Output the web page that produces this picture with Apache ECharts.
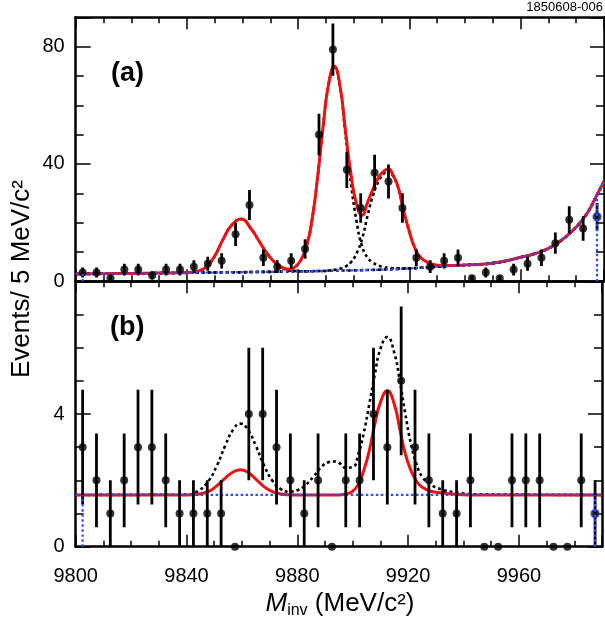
<!DOCTYPE html>
<html>
<head>
<meta charset="utf-8">
<script src="https://cdn.jsdelivr.net/npm/echarts@6.0.0/dist/echarts.min.js"></script>
<style>
html,body{margin:0;padding:0;background:#fff;}
#chart{width:605px;height:619px;}
</style>
</head>
<body>
<div id="chart"></div>
<script>
// ---------- DATA ----------
const binCenters = [9802.5, 9807.5, 9812.5, 9817.5, 9822.5, 9827.5, 9832.5, 9837.5, 9842.5, 9847.5,
  9852.5, 9857.5, 9862.5, 9867.5, 9872.5, 9877.5, 9882.5, 9887.5, 9892.5, 9897.5,
  9902.5, 9907.5, 9912.5, 9917.5, 9922.5, 9927.5, 9932.5, 9937.5, 9942.5, 9947.5,
  9952.5, 9957.5, 9962.5, 9967.5, 9972.5, 9977.5, 9982.5, 9987.5];

// panel (a)
const countsA = [3, 3, 1, 4, 4, 2, 4, 4, 5, 6,
  7, 16, 26, 8, 5, 7, 11, 50, 79, 38,
  25, 37, 34, 25, 8, 5, 7, 8, 1, 3,
  1, 4, 6, 8, 13, 21, 18, 22];
const errA = [1.7, 1.7, 1.0, 2.0, 2.0, 1.4, 2.0, 2.0, 2.2, 2.4,
  2.6, 4.0, 5.1, 2.8, 2.2, 2.6, 3.3, 7.1, 8.9, 6.2,
  5.0, 6.1, 5.8, 5.0, 2.8, 2.2, 2.6, 2.8, 1.0, 1.7,
  1.0, 2.0, 2.4, 2.8, 3.6, 4.6, 4.2, 4.7];

// panel (b)
const countsB = [3, 2, 1, 2, 3, 3, 2, 1, 1, 1,
  1, 0, 4, 4, 3, 2, 1, 2, 0, 2,
  2, 4, 3, 5, 3, 2, 1, 1, 2, 0,
  0, 2, 2, 2, 0, 0, 2, 1];
const errB = [1.73, 1.41, 1.0, 1.41, 1.73, 1.73, 1.41, 1.0, 1.0, 1.0,
  1.0, 0, 2.0, 2.0, 1.73, 1.41, 1.0, 1.41, 0, 1.41,
  1.41, 2.0, 1.73, 2.24, 1.73, 1.41, 1.0, 1.0, 1.41, 0,
  0, 1.41, 1.41, 1.41, 0, 0, 1.41, 1.0];

// fit curves, panel (a)
const curveXA = [9800, 9810, 9820, 9830, 9840, 9844, 9847, 9850, 9853, 9856,
  9859.5, 9863, 9866, 9869, 9872, 9875, 9877, 9879, 9881, 9883,
  9885, 9887, 9889, 9891, 9893, 9895, 9897, 9899, 9901, 9903,
  9905, 9907, 9909, 9911, 9912.5, 9914, 9916, 9918, 9920, 9922,
  9924, 9927, 9930, 9935, 9940, 9945, 9950, 9955, 9960, 9965,
  9970, 9975, 9980, 9984, 9987.5, 9990];
const bgA = [2.5, 2.6, 2.7, 2.8, 2.9, 2.95, 3.0, 3.0, 3.05, 3.1,
  3.1, 3.15, 3.2, 3.2, 3.25, 3.3, 3.3, 3.35, 3.4, 3.4,
  3.45, 3.5, 3.5, 3.55, 3.6, 3.65, 3.7, 3.7, 3.75, 3.8,
  3.85, 3.9, 3.95, 4.0, 4.05, 4.1, 4.2, 4.3, 4.4, 4.5,
  4.6, 4.8, 5.0, 5.3, 5.55, 5.75, 6.2, 7.0, 8.2, 9.4,
  11.2, 14.2, 18.5, 23.3, 29.5, 34.0];
const totalA = [2.5, 2.6, 2.7, 2.8, 3.0, 3.4, 5.0, 8.6, 14.3, 19.0,
  21.2, 18.0, 13.6, 9.3, 6.1, 4.4, 4.1, 5.0, 7.3, 11.8,
  21.0, 35.5, 53.0, 67.5, 73.3, 67.0, 51.5, 36.5, 26.3, 22.5,
  27.0, 31.6, 35.5, 37.7, 38.3, 36.5, 32.0, 23.8, 16.9, 11.3,
  8.2, 6.3, 5.5, 5.35, 5.55, 5.75, 6.2, 7.0, 8.2, 9.4,
  11.2, 14.2, 18.5, 23.3, 29.5, 34.0];
const peak1A = [2.5, 2.6, 2.7, 2.8, 3.0, 3.4, 5.0, 8.6, 14.3, 19.0,
  21.2, 18.0, 13.6, 9.3, 6.1, 4.2, 3.7, 3.5, 3.45, 3.4,
  3.45, 3.5, 3.5, 3.55, 3.6, 3.65, 3.7, 3.7, 3.75, 3.8,
  3.85, 3.9, 3.95, 4.0, 4.05, 4.1, 4.2, 4.3, 4.4, 4.5,
  4.6, 4.8, 5.0, 5.3, 5.55, 5.75, 6.2, 7.0, 8.2, 9.4,
  11.2, 14.2, 18.5, 23.3, 29.5, 34.0];
const peak2A = [2.5, 2.6, 2.7, 2.8, 2.9, 2.95, 3.0, 3.0, 3.05, 3.1,
  3.1, 3.15, 3.2, 3.2, 3.25, 3.35, 3.7, 4.85, 7.25, 11.75,
  20.95, 35.45, 52.95, 67.4, 73.0, 66.5, 50.3, 33.5, 20.5, 11.9,
  8.0, 6.3, 5.3, 4.8, 4.6, 4.45, 4.4, 4.4, 4.45, 4.5,
  4.6, 4.8, 5.0, 5.3, 5.55, 5.75, 6.2, 7.0, 8.2, 9.4,
  11.2, 14.2, 18.5, 23.3, 29.5, 34.0];
const peak3A = [2.5, 2.6, 2.7, 2.8, 2.9, 2.95, 3.0, 3.0, 3.05, 3.1,
  3.1, 3.15, 3.2, 3.2, 3.25, 3.3, 3.3, 3.35, 3.4, 3.4,
  3.45, 3.5, 3.5, 3.7, 3.9, 4.3, 5.0, 6.5, 9.5, 14.5,
  22.5, 29.5, 34.2, 36.9, 37.8, 36.1, 31.8, 23.8, 16.9, 11.3,
  8.2, 6.3, 5.5, 5.35, 5.55, 5.75, 6.2, 7.0, 8.2, 9.4,
  11.2, 14.2, 18.5, 23.3, 29.5, 34.0];

// fit curves, panel (b)
const curveXB = [9800, 9840, 9844, 9848, 9851, 9854, 9857, 9859.5, 9862, 9865,
  9868, 9871, 9874, 9877, 9880, 9883, 9886, 9889, 9891, 9893,
  9895, 9897.5, 9900, 9902, 9904, 9906, 9908, 9910, 9912.5, 9915,
  9917, 9919, 9921, 9923, 9925, 9928, 9932, 9937, 9945, 9990];
const totalB = [1.56, 1.56, 1.58, 1.67, 1.84, 2.07, 2.26, 2.32, 2.25, 2.04,
  1.81, 1.66, 1.59, 1.565, 1.56, 1.56, 1.56, 1.56, 1.56, 1.56,
  1.56, 1.59, 1.67, 1.88, 2.3, 2.9, 3.7, 4.35, 4.7, 4.3,
  3.55, 2.8, 2.3, 1.98, 1.8, 1.68, 1.62, 1.58, 1.56, 1.56];
const peaksB = [1.56, 1.57, 1.67, 1.99, 2.45, 3.05, 3.55, 3.71, 3.55, 3.05,
  2.45, 1.99, 1.74, 1.66, 1.7, 1.86, 2.13, 2.43, 2.54, 2.57,
  2.53, 2.38, 2.4, 2.78, 3.43, 4.3, 5.2, 5.96, 6.32, 5.85,
  5.0, 4.0, 3.11, 2.5, 2.12, 1.88, 1.73, 1.64, 1.58, 1.56];
const bgXB = [9800, 9990];
const bgB = [1.56, 1.56];

// background end markers (vertical drops)
const edgeX = [9802.5, 9987.5];
const edgeTopA = [2.55, 29.5];
const edgeTopB = [1.56, 1.56];

// ---------- STYLE / LAYOUT ----------
const FONT = '"Liberation Sans", Arial, Helvetica, sans-serif';
const RED = '#f01010', BLUE = '#2f4cff', BLACK = '#000';
const GL = 75.7, GR = 1;

function xAx(grid, pos, interval, len, line, label) {
  return {
    type: 'value', gridIndex: grid, position: pos, min: 9800, max: 9990, interval: interval,
    axisLine: { show: line, onZero: false, lineStyle: { color: BLACK, width: 2.5 } },
    axisTick: { show: true, inside: true, length: len, lineStyle: { color: BLACK, width: 1.5 } },
    axisLabel: label ? {
      show: true, fontSize: 20, fontFamily: FONT, color: BLACK, margin: 20,
      formatter: v => (v === 9990 ? '' : String(v))
    } : { show: false },
    splitLine: { show: false }
  };
}
function yAx(grid, pos, max, interval, len, line, label) {
  return {
    type: 'value', gridIndex: grid, position: pos, min: 0, max: max, interval: interval,
    axisLine: { show: line, onZero: false, lineStyle: { color: BLACK, width: 2.5 } },
    axisTick: { show: true, inside: true, length: len, lineStyle: { color: BLACK, width: 1.5 } },
    axisLabel: label ? {
      show: true, fontSize: 20, fontFamily: FONT, color: BLACK, margin: 11,
      formatter: v => (v === max ? '' : String(v))
    } : { show: false },
    splitLine: { show: false }
  };
}

function curve(xi, yi, xs, ys, color, width, type, z) {
  return {
    type: 'line', xAxisIndex: xi, yAxisIndex: yi,
    data: xs.map((x, i) => [x, ys[i]]),
    showSymbol: false, symbol: 'none', smooth: 0.5,
    lineStyle: { color: color, width: width, type: type, cap: 'butt', join: 'round' },
    z: z, silent: true, clip: true
  };
}
function errSeries(xi, yi, counts, errs) {
  return {
    type: 'custom', xAxisIndex: xi, yAxisIndex: yi, z: 6, silent: true, clip: true,
    data: binCenters.map((x, i) => [x, counts[i], errs[i]]),
    encode: { x: 0, y: 1 },
    renderItem: function (params, api) {
      const x = api.value(0), y = api.value(1), e = api.value(2);
      if (!e) return { type: 'group', children: [] };
      const lo = api.coord([x, y - e]), hi = api.coord([x, y + e]);
      return {
        type: 'line',
        shape: { x1: lo[0], y1: lo[1], x2: hi[0], y2: hi[1] },
        style: { stroke: BLACK, lineWidth: 2.8 }
      };
    }
  };
}
function pointSeries(xi, yi, counts) {
  const n = binCenters.length;
  return {
    type: 'scatter', xAxisIndex: xi, yAxisIndex: yi, symbol: 'circle', symbolSize: 8,
    z: 7, silent: true, clip: false,
    itemStyle: { color: BLACK },
    data: binCenters.map((x, i) => i === n - 1
      ? { value: [x, counts[i]], itemStyle: { color: BLACK, borderColor: BLUE, borderWidth: 1.5 } }
      : [x, counts[i]])
  };
}

const series = [];
// panel (a)
series.push(curve(0, 0, curveXA, peak1A, BLACK, 2.6, [3, 3], 2));
series.push(curve(0, 0, curveXA, peak2A, BLACK, 2.6, [3, 3], 2));
series.push(curve(0, 0, curveXA, peak3A, BLACK, 2.6, [3, 3], 2));
series.push(curve(0, 0, curveXA, totalA, RED, 3, 'solid', 3));
series.push(curve(0, 0, curveXA, bgA, BLUE, 2.2, [2.5, 2.5], 4));
edgeX.forEach((x, i) => series.push(curve(0, 0, [x, x], [0, edgeTopA[i]], BLUE, 2.2, [2.5, 2.5], 8)));
series.push(errSeries(0, 0, countsA, errA));
series.push(pointSeries(0, 0, countsA));
// panel (b)
series.push(curve(4, 4, curveXB, peaksB, BLACK, 2.6, [3, 3], 2));
series.push(curve(4, 4, curveXB, totalB, RED, 3, 'solid', 3));
series.push(curve(4, 4, bgXB, bgB, BLUE, 2.2, [2.5, 2.5], 4));
edgeX.forEach((x, i) => series.push(curve(4, 4, [x, x], [0, edgeTopB[i]], BLUE, 2.2, [2.5, 2.5], 8)));
series.push(errSeries(4, 4, countsB, errB));
series.push(pointSeries(4, 4, countsB));

const option = {
  animation: false,
  backgroundColor: '#fff',
  grid: [
    { left: GL, right: GR, top: 17.3, height: 264, containLabel: false },
    { left: GL, right: GR, top: 281.3, height: 265.4, containLabel: false }
  ],
  xAxis: [
    xAx(0, 'bottom', 10, 6, true, false),
    xAx(0, 'bottom', 40, 12, false, false),
    xAx(0, 'top', 10, 6, true, false),
    xAx(0, 'top', 40, 12, false, false),
    xAx(1, 'bottom', 10, 6, true, false),
    xAx(1, 'bottom', 40, 12, false, true),
    xAx(1, 'top', 10, 6, true, false),
    xAx(1, 'top', 40, 12, false, false)
  ],
  yAxis: [
    yAx(0, 'left', 90, 10, 8, true, false),
    yAx(0, 'left', 90, 40, 15, false, true),
    yAx(0, 'right', 90, 10, 8, true, false),
    yAx(0, 'right', 90, 40, 14, false, false),
    yAx(1, 'left', 8, 1, 8, true, false),
    yAx(1, 'left', 8, 4, 15, false, true),
    yAx(1, 'right', 8, 1, 8, true, false),
    yAx(1, 'right', 8, 4, 14, false, false)
  ],
  graphic: [
    { type: 'text', right: 2, top: 1, style: { text: '1850608-006', font: '13px ' + FONT, fill: BLACK } },
    { type: 'text', x: 111, y: 74, style: { text: '(a)', font: 'bold 27px ' + FONT, fill: BLACK, textAlign: 'left', textVerticalAlign: 'middle' } },
    { type: 'text', x: 110, y: 328, style: { text: '(b)', font: 'bold 27px ' + FONT, fill: BLACK, textAlign: 'left', textVerticalAlign: 'middle' } },
    { type: 'text', x: 22, y: 279, rotation: Math.PI / 2,
      style: { text: 'Events/ 5 MeV/c²', font: '26px ' + FONT, fill: BLACK, textAlign: 'center', textVerticalAlign: 'middle' } },
    { type: 'text', x: 340, y: 604,
      style: {
        text: '{m|M}{s|inv} (MeV/c²)', font: '26px ' + FONT, fill: BLACK,
        textAlign: 'center', textVerticalAlign: 'middle',
        rich: {
          m: { fontStyle: 'italic', fontSize: 26, fontFamily: FONT, lineHeight: 30 },
          s: { fontSize: 16, fontFamily: FONT, verticalAlign: 'bottom', lineHeight: 18 }
        }
      } }
  ],
  series: series
};

const chart = echarts.init(document.getElementById('chart'), null, { renderer: 'canvas' });
chart.setOption(option);
</script>
</body>
</html>
